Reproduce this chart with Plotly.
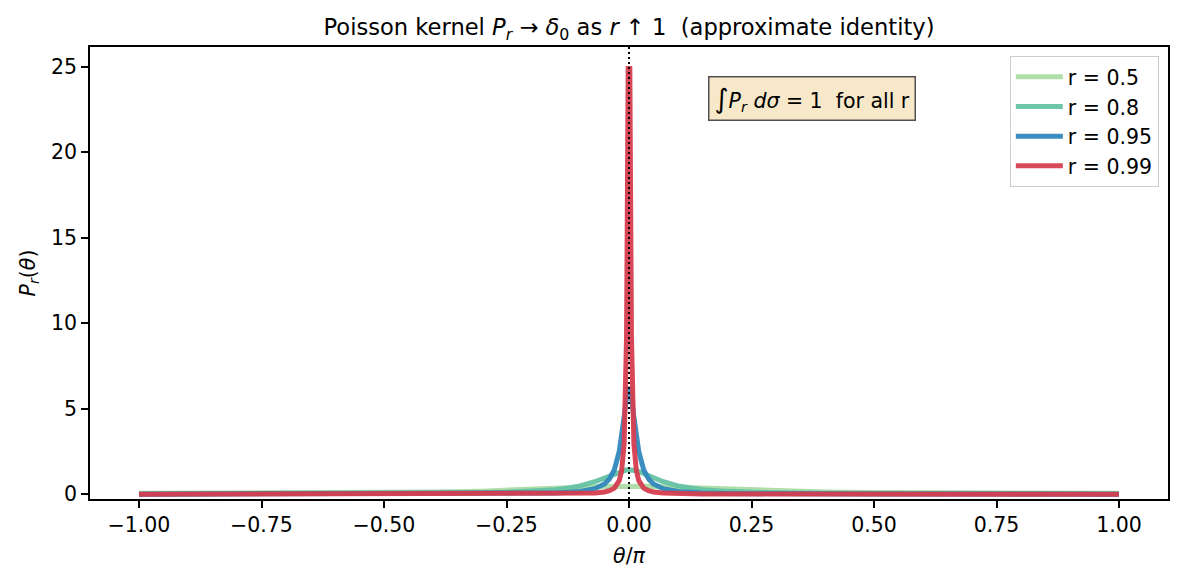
import plotly.graph_objects as go

# theta / pi sample positions
x_vals = [-1.0, -0.85, -0.7, -0.6, -0.5, -0.4, -0.3, -0.25, -0.2, -0.15, -0.12, -0.1, -0.07, -0.05,
          -0.04, -0.03, -0.02, -0.015, -0.01, -0.005, -0.00167,
          0.00167, 0.005, 0.01, 0.015, 0.02, 0.03, 0.04, 0.05, 0.07, 0.1, 0.12, 0.15, 0.2, 0.25,
          0.3, 0.4, 0.5, 0.6, 0.7, 0.85, 1.0]

p_r050 = [0.05305, 0.05575, 0.06495, 0.07657, 0.09549, 0.12685, 0.18025, 0.21987, 0.27068, 0.33250,
          0.37276, 0.39930, 0.43551, 0.45505, 0.46287, 0.46914, 0.47373, 0.47536, 0.47653, 0.47723, 0.47745,
          0.47745, 0.47723, 0.47653, 0.47536, 0.47373, 0.46914, 0.46287, 0.45505, 0.43551, 0.39930,
          0.37276, 0.33250, 0.27068, 0.21987, 0.18025, 0.12685, 0.09549, 0.07657, 0.06495, 0.05575, 0.05305]

p_r080 = [0.0177, 0.0187, 0.0222, 0.0268, 0.0349, 0.0500, 0.0819, 0.1127, 0.1658, 0.2673,
          0.3761, 0.4843, 0.7296, 0.9598, 1.0890, 1.2165, 1.3276, 1.3715, 1.4047, 1.4254, 1.4316,
          1.4316, 1.4254, 1.4047, 1.3715, 1.3276, 1.2165, 1.0890, 0.9598, 0.7296, 0.4843,
          0.3761, 0.2673, 0.1658, 0.1127, 0.0819, 0.0500, 0.0349, 0.0268, 0.0222, 0.0187, 0.0177]

p_r095 = [0.0041, 0.0043, 0.0051, 0.0062, 0.0082, 0.0118, 0.0198, 0.0278, 0.0425, 0.0740,
          0.1142, 0.1625, 0.3216, 0.5993, 0.8877, 1.4195, 2.483, 3.367, 4.514, 5.675, 6.143,
          6.143, 5.675, 4.514, 3.367, 2.483, 1.4195, 0.8877, 0.5993, 0.3216, 0.1625,
          0.1142, 0.0740, 0.0425, 0.0278, 0.0198, 0.0118, 0.0082, 0.0062, 0.0051, 0.0043, 0.0041]

p_r099 = [0.0008, 0.0008, 0.0010, 0.0012, 0.0016, 0.0023, 0.0039, 0.0055, 0.0084, 0.0147,
          0.0228, 0.0327, 0.0663, 0.1294, 0.2016, 0.3564, 0.7904, 1.378, 2.941, 9.200, 24.89,
          24.89, 9.200, 2.941, 1.378, 0.7904, 0.3564, 0.2016, 0.1294, 0.0663, 0.0327,
          0.0228, 0.0147, 0.0084, 0.0055, 0.0039, 0.0023, 0.0016, 0.0012, 0.0010, 0.0008, 0.0008]

series_names = ["r = 0.5", "r = 0.8", "r = 0.95", "r = 0.99"]
series_vals = [p_r050, p_r080, p_r095, p_r099]
series_colors = ["#abdda4", "#66c2a5", "#3288bd", "#d53e4f"]

x_ticks = [-1.0, -0.75, -0.5, -0.25, 0.0, 0.25, 0.5, 0.75, 1.0]
y_ticks = [0, 5, 10, 15, 20, 25]

FONT = "DejaVu Sans"
FS = 20.5

fig = go.Figure()
for name, vals, col in zip(series_names, series_vals, series_colors):
    fig.add_trace(go.Scatter(x=x_vals, y=vals, mode="lines", name=name,
                             line=dict(color=col, width=5), opacity=0.95))

fig.add_shape(type="line", xref="x", yref="paper", x0=0, x1=0, y0=0, y1=1,
              line=dict(color="black", width=2, dash="2px,3px"), layer="above")

fig.add_annotation(xref="paper", yref="paper", x=0.67, y=0.887, xanchor="center", yanchor="middle",
                   text="<span style='font-size:27px'>∫</span><i>P<sub>r</sub></i> <i>dσ</i> = 1\u00a0 for all r",
                   showarrow=False, font=dict(family=FONT, size=FS, color="black"),
                   bgcolor="rgb(248,232,202)", bordercolor="rgb(80,80,80)", borderwidth=1.5,
                   borderpad=5)

fig.update_layout(
    width=1183, height=581,
    margin=dict(l=90, r=15, t=47, b=82),
    paper_bgcolor="white", plot_bgcolor="white",
    font=dict(family=FONT, size=FS, color="black"),
    title=dict(text="Poisson kernel <i>P<sub>r</sub></i> → <i>δ</i><sub>0</sub> as <i>r</i> ↑ 1\u00a0\u00a0(approximate identity)",
               x=0.5, xref="paper", xanchor="center", y=1 - 27 / 581, yref="container", yanchor="middle",
               font=dict(family=FONT, size=22.6, color="black")),
    showlegend=True,
    legend=dict(x=0.9915, y=0.98, xanchor="right", yanchor="top", itemwidth=47,
                bgcolor="rgba(255,255,255,0.8)", bordercolor="#cccccc", borderwidth=1,
                font=dict(family=FONT, size=FS, color="black")),
)

fig.update_xaxes(range=[-1.1, 1.1], tickvals=x_ticks, ticktext=[f"{v:.2f}".replace("-", "\u2212") for v in x_ticks],
                 showgrid=False, zeroline=False, showline=True, mirror=True, linecolor="black", linewidth=1.5,
                 ticks="outside", ticklen=7, tickwidth=1.5, tickcolor="black",
                 title=dict(text="<i>θ</i>/<i>π</i>", font=dict(family=FONT, size=FS), standoff=12))
fig.update_yaxes(range=[-0.28, 26.14], tickvals=y_ticks,
                 showgrid=False, zeroline=False, showline=True, mirror=True, linecolor="black", linewidth=1.5,
                 ticks="outside", ticklen=7, tickwidth=1.5, tickcolor="black",
                 title=dict(text="<i>P<sub>r</sub></i>(<i>θ</i>)", font=dict(family=FONT, size=FS), standoff=10))

fig.write_html("out.html")
